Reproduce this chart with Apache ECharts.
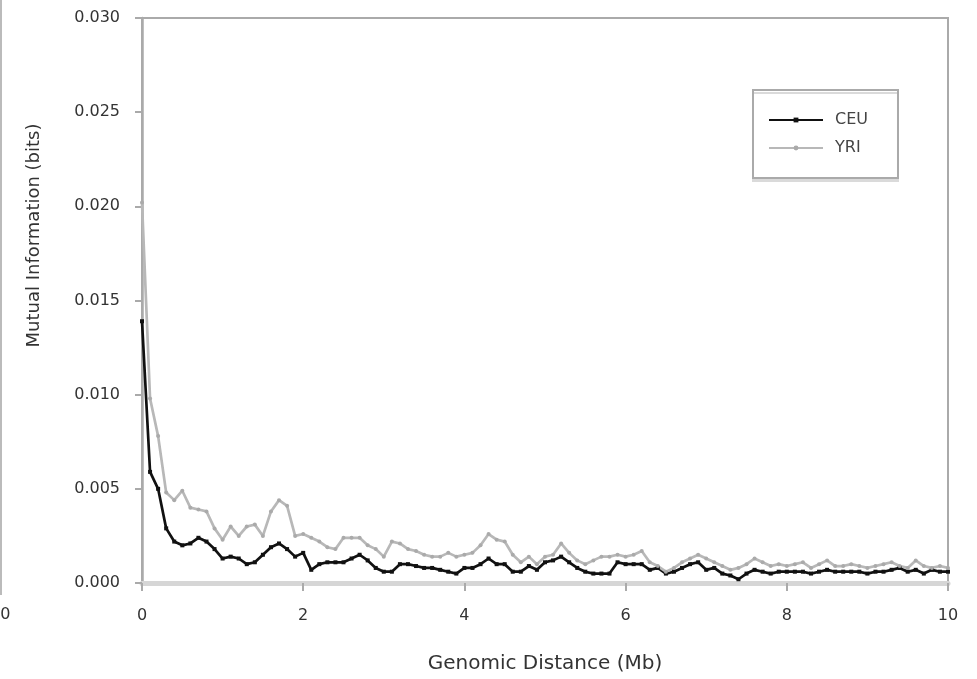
<!DOCTYPE html>
<html>
<head>
<meta charset="utf-8">
<script src="https://cdn.jsdelivr.net/npm/echarts@6/dist/echarts.min.js"></script>
<style>
  html, body { margin: 0; padding: 0; background: #fff; }
  #mi-chart { width: 977px; height: 679px; }
</style>
</head>
<body>
<div id="mi-chart"></div>
<script>
// genomic distance in Mb, one point every 0.1 Mb
var distance = [
  0.0, 0.1, 0.2, 0.3, 0.4, 0.5, 0.6, 0.7, 0.8, 0.9,
  1.0, 1.1, 1.2, 1.3, 1.4, 1.5, 1.6, 1.7, 1.8, 1.9,
  2.0, 2.1, 2.2, 2.3, 2.4, 2.5, 2.6, 2.7, 2.8, 2.9,
  3.0, 3.1, 3.2, 3.3, 3.4, 3.5, 3.6, 3.7, 3.8, 3.9,
  4.0, 4.1, 4.2, 4.3, 4.4, 4.5, 4.6, 4.7, 4.8, 4.9,
  5.0, 5.1, 5.2, 5.3, 5.4, 5.5, 5.6, 5.7, 5.8, 5.9,
  6.0, 6.1, 6.2, 6.3, 6.4, 6.5, 6.6, 6.7, 6.8, 6.9,
  7.0, 7.1, 7.2, 7.3, 7.4, 7.5, 7.6, 7.7, 7.8, 7.9,
  8.0, 8.1, 8.2, 8.3, 8.4, 8.5, 8.6, 8.7, 8.8, 8.9,
  9.0, 9.1, 9.2, 9.3, 9.4, 9.5, 9.6, 9.7, 9.8, 9.9,
  10.0
];

// mutual information (bits)
var ceu = [
  0.0139, 0.0059, 0.0050, 0.0029, 0.0022, 0.0020, 0.0021, 0.0024, 0.0022, 0.0018,
  0.0013, 0.0014, 0.0013, 0.0010, 0.0011, 0.0015, 0.0019, 0.0021, 0.0018, 0.0014,
  0.0016, 0.0007, 0.0010, 0.0011, 0.0011, 0.0011, 0.0013, 0.0015, 0.0012, 0.0008,
  0.0006, 0.0006, 0.0010, 0.0010, 0.0009, 0.0008, 0.0008, 0.0007, 0.0006, 0.0005,
  0.0008, 0.0008, 0.0010, 0.0013, 0.0010, 0.0010, 0.0006, 0.0006, 0.0009, 0.0007,
  0.0011, 0.0012, 0.0014, 0.0011, 0.0008, 0.0006, 0.0005, 0.0005, 0.0005, 0.0011,
  0.0010, 0.0010, 0.0010, 0.0007, 0.0008, 0.0005, 0.0006, 0.0008, 0.0010, 0.0011,
  0.0007, 0.0008, 0.0005, 0.0004, 0.0002, 0.0005, 0.0007, 0.0006, 0.0005, 0.0006,
  0.0006, 0.0006, 0.0006, 0.0005, 0.0006, 0.0007, 0.0006, 0.0006, 0.0006, 0.0006,
  0.0005, 0.0006, 0.0006, 0.0007, 0.0008, 0.0006, 0.0007, 0.0005, 0.0007, 0.0006,
  0.0006
];
var yri = [
  0.0202, 0.0098, 0.0078, 0.0048, 0.0044, 0.0049, 0.0040, 0.0039, 0.0038, 0.0029,
  0.0023, 0.0030, 0.0025, 0.0030, 0.0031, 0.0025, 0.0038, 0.0044, 0.0041, 0.0025,
  0.0026, 0.0024, 0.0022, 0.0019, 0.0018, 0.0024, 0.0024, 0.0024, 0.0020, 0.0018,
  0.0014, 0.0022, 0.0021, 0.0018, 0.0017, 0.0015, 0.0014, 0.0014, 0.0016, 0.0014,
  0.0015, 0.0016, 0.0020, 0.0026, 0.0023, 0.0022, 0.0015, 0.0011, 0.0014, 0.0010,
  0.0014, 0.0015, 0.0021, 0.0016, 0.0012, 0.0010, 0.0012, 0.0014, 0.0014, 0.0015,
  0.0014, 0.0015, 0.0017, 0.0011, 0.0009, 0.0006, 0.0008, 0.0011, 0.0013, 0.0015,
  0.0013, 0.0011, 0.0009, 0.0007, 0.0008, 0.0010, 0.0013, 0.0011, 0.0009, 0.0010,
  0.0009, 0.0010, 0.0011, 0.0008, 0.0010, 0.0012, 0.0009, 0.0009, 0.0010, 0.0009,
  0.0008, 0.0009, 0.0010, 0.0011, 0.0009, 0.0008, 0.0012, 0.0009, 0.0008, 0.0009,
  0.0008
];

var seriesNames = ['CEU', 'YRI'];

function pairs(xs, ys) {
  return xs.map(function (x, i) { return [x, ys[i]]; });
}

var chart = echarts.init(document.getElementById('mi-chart'));

var option = {
  backgroundColor: '#fff',
  animation: false,
  grid: {
    left: 142,
    right: 29,
    top: 18,
    bottom: 95,
    show: true,
    borderColor: '#aaa',
    borderWidth: 2
  },
  legend: {
    data: seriesNames,
    orient: 'vertical',
    left: 753,
    top: 90,
    padding: [21, 30, 21, 15],
    itemWidth: 54,
    itemHeight: 6,
    itemGap: 10,
    borderColor: '#aaa',
    borderWidth: 2,
    borderRadius: 0,
    backgroundColor: '#fff',
    shadowColor: '#dadada',
    shadowOffsetY: 3,
    shadowBlur: 0,
    textStyle: {
      fontFamily: 'DejaVu Sans',
      fontSize: 16,
      lineHeight: 18,
      color: '#444',
      padding: [0, 0, 0, 7]
    }
  },
  xAxis: {
    type: 'value',
    min: 0,
    max: 10,
    interval: 2,
    name: 'Genomic Distance (Mb)',
    nameLocation: 'middle',
    nameGap: 71,
    nameTextStyle: {
      fontFamily: 'DejaVu Sans',
      fontSize: 20,
      color: '#333'
    },
    axisLine: {
      lineStyle: { color: '#d6d6d6', width: 5 }
    },
    axisTick: {
      length: 8,
      lineStyle: { color: '#aaa', width: 2 }
    },
    axisLabel: {
      margin: 25,
      fontFamily: 'DejaVu Sans',
      fontSize: 16,
      color: '#333'
    },
    splitLine: { show: false }
  },
  yAxis: {
    type: 'value',
    min: 0,
    max: 0.03,
    interval: 0.005,
    name: 'Mutual Information (bits)',
    nameLocation: 'middle',
    nameGap: 99,
    nameTextStyle: {
      fontFamily: 'DejaVu Sans',
      fontSize: 18,
      color: '#333',
      padding: [0, 0, 0, 130]
    },
    axisLine: {
      show: true,
      lineStyle: { color: '#aaa', width: 2.5 }
    },
    axisTick: {
      show: true,
      length: 7,
      lineStyle: { color: '#aaa', width: 2 }
    },
    axisLabel: {
      margin: 22,
      fontFamily: 'DejaVu Sans',
      fontSize: 16,
      color: '#333',
      formatter: function (v) { return v.toFixed(3); }
    },
    splitLine: { show: false }
  },
  series: [
    {
      name: 'CEU',
      type: 'line',
      data: pairs(distance, ceu),
      symbol: 'rect',
      symbolSize: 4,
      showSymbol: true,
      itemStyle: { color: '#111' },
      lineStyle: { color: '#111', width: 2.7 }
    },
    {
      name: 'YRI',
      type: 'line',
      data: pairs(distance, yri),
      symbol: 'circle',
      symbolSize: 4,
      showSymbol: true,
      itemStyle: { color: '#aaa' },
      lineStyle: { color: '#b8b8b8', width: 2.7 }
    }
  ],
  // leftover edge of the neighbouring panel
  graphic: [
    {
      type: 'line',
      shape: { x1: 1, y1: 0, x2: 1, y2: 595 },
      style: { stroke: '#bbb', lineWidth: 2 }
    },
    {
      type: 'text',
      left: -10,
      top: 607,
      style: { text: '10', fontFamily: 'DejaVu Sans', fontSize: 16, fill: '#333' }
    }
  ]
};

chart.setOption(option);
</script>
</body>
</html>
